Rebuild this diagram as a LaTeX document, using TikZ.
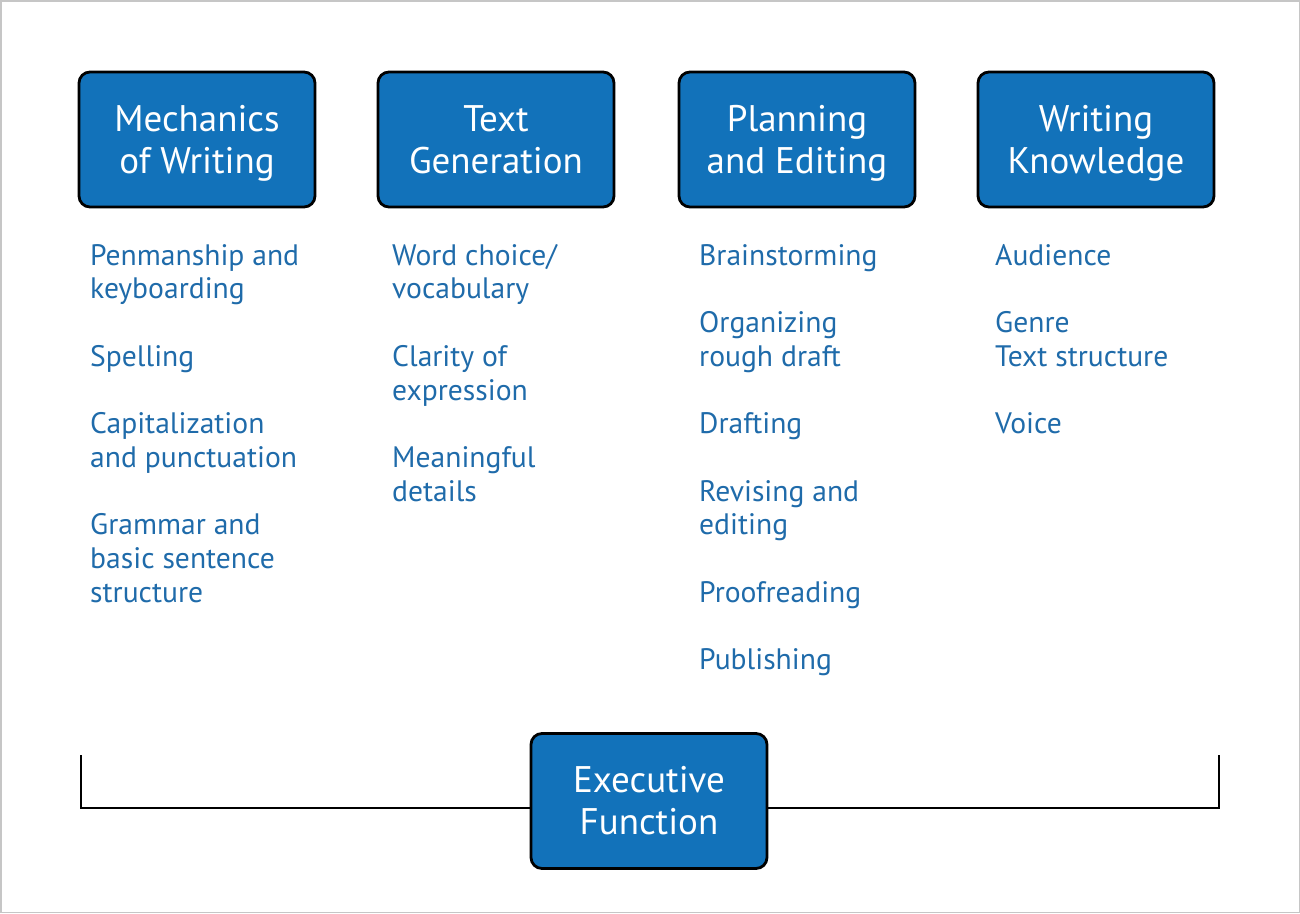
\documentclass[tikz,border=0pt]{standalone}
\usepackage{fontspec}
\setmainfont{PT Sans}
\usetikzlibrary{positioning}

\definecolor{boxblue}{HTML}{1272BA}
\definecolor{itemblue}{HTML}{1F6BAA}
\newcommand{\twolines}[2]{\rule{0pt}{35pt}#1\\#2\rule[-10pt]{0pt}{10pt}}

\tikzset{
  topic/.style={draw=black,line width=2.8pt,fill=boxblue,rounded corners=11pt,
    minimum width=236pt,minimum height=135pt,inner sep=0pt,align=center,
    text=white,font=\fontsize{37}{42}\selectfont},
  items/.style={anchor=north west,inner sep=0pt,align=left,text=itemblue,
    font=\fontsize{29.6}{33.7}\selectfont},
}

\begin{document}
\begin{tikzpicture}[x=1pt,y=-1pt]
      \useasboundingbox (0,0) rectangle (1300,913);
      \draw[gray!45,line width=1.5pt] (0.75,0.75) rectangle (1299.25,912.25);
      % the four areas
      \node[topic] (mech) at (197,139.5) {\twolines{Mechanics}{of Writing}};
      \node[topic] (gen)  at (496,139.5) {\twolines{Text}{Generation}};
      \node[topic] (plan) at (797,139.5) {\twolines{Planning}{and Editing}};
      \node[topic] (know) at (1096,139.5) {\twolines{Writing}{Knowledge}};
      % what each area covers
      \node[items] (mechlist) at (90,244) {Penmanship and\\keyboarding\\[33.7pt]Spelling\\[33.7pt]Capitalization\\and punctuation\\[33.7pt]Grammar and\\basic sentence\\structure};
      \node[items] (genlist) at (392,244) {Word choice/\\vocabulary\\[33.7pt]Clarity of\\expression\\[33.7pt]Meaningful\\details};
      \node[items] (planlist) at (699,244) {Brainstorming\\[33.7pt]Organizing\\rough draft\\[33.7pt]Drafting\\[33.7pt]Revising and\\editing\\[33.7pt]Proofreading\\[33.7pt]Publishing};
      \node[items] (knowlist) at (995,244) {Audience\\[33.7pt]Genre\\Text structure\\[33.7pt]Voice};
      % executive function under everything
      \node[topic] (exec) at (649,801) {\twolines{Executive}{Function}};
      \coordinate (lefttip) at (81,755);
      \coordinate (righttip) at (1219,755);
      \draw[line width=2.8pt] (lefttip) |- ([yshift=-7pt]exec.west);
      \draw[line width=2.8pt] (righttip) |- ([yshift=-7pt]exec.east);
    \end{tikzpicture}
\end{document}
